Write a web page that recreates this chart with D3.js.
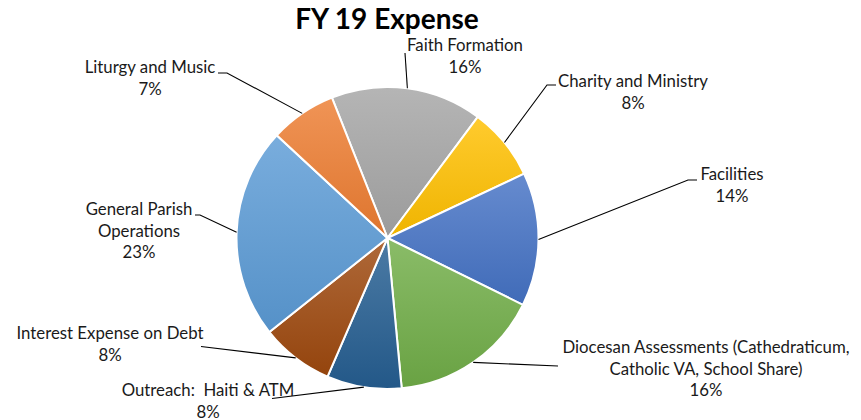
<!DOCTYPE html>
<head>
  <meta charset="utf-8">
  <style>
    body { margin: 0; background: #fff; }
    svg { display: block; font-family: Lato, sans-serif; }
  </style>
  <script src="https://cdn.jsdelivr.net/npm/d3@7"></script>
</head>
<body>
<svg id=chart width="861" height="420"></svg>
<script>
// data, in drawing order (clockwise)
const categories = [
  'Faith Formation', 'Charity and Ministry', 'Facilities',
  'Diocesan Assessments (Cathedraticum,|Catholic VA, School Share)',
  'Outreach:  Haiti & ATM', 'Interest Expense on Debt',
  'General Parish|Operations', 'Liturgy and Music'
]
const shares = [16.2, 7.8, 14.3, 16.2, 8.0, 7.8, 22.6, 7.1]
const colors = ['#A5A5A5', '#FFC000', '#4472C4', '#70AD47', '#255E91', '#9E480E', '#5B9BD5', '#ED7D31']

// label layout: text centre x, first baseline y, leader start (+ optional elbow)
const labelLayout = [
  { x: 465, y: 51, lead: [[405, 53]] },
  { x: 633, y: 87, lead: [[556, 85], [547, 85]] },
  { x: 732, y: 180, lead: [[697, 180], [688, 180]] },
  { x: 706, y: 353, lead: [[558, 366]] },
  { x: 208, y: 396, lead: [[272, 398.5]] },
  { x: 110, y: 339, lead: [[201, 346.5]] },
  { x: 139, y: 215, lead: [[195, 215], [200, 215]] },
  { x: 150, y: 73, lead: [[218, 73], [227, 73]] }
]

const svg = d3.select('#chart')
const cx = 387.5, cy = 238, r = 151
const lineGap = 21.7

svg.append('text')
  .attr('x', 387).attr('y', 29)
  .attr('text-anchor', 'middle')
  .style('font-size', '28px').style('font-weight', 700)
  .attr('fill', '#000')
  .text('FY 19 Expense')

const rows = categories.map((c, i) => ({ name: c, value: shares[i], color: colors[i], lay: labelLayout[i] }))

const start = -21.6 * Math.PI / 180
const pie = d3.pie().sort(null).value(d => d.value)
  .startAngle(start).endAngle(start + 2 * Math.PI)
const arcs = pie(rows)
const arc = d3.arc().innerRadius(0).outerRadius(r)

// gradients
const defs = svg.append('defs')
rows.forEach((d, i) => {
  const g = defs.append('linearGradient').attr('id', 'g' + i)
    .attr('x1', 0).attr('y1', 0).attr('x2', 0).attr('y2', 1)
  g.append('stop').attr('offset', 0).attr('stop-color', d3.interpolateRgb(d.color, '#fff')(0.18))
  g.append('stop').attr('offset', 1).attr('stop-color', d3.color(d.color).darker(0.18))
})

const g = svg.append('g').attr('transform', `translate(${cx},${cy})`)
g.selectAll('path')
  .data(arcs)
  .join('path')
  .attr('d', arc)
  .attr('fill', (d, i) => `url(#g${i})`)
  .attr('stroke', '#fff')
  .attr('stroke-width', 2)

// leader lines
const line = d3.line()
svg.append('g').selectAll('path')
  .data(arcs)
  .join('path')
  .attr('fill', 'none')
  .attr('stroke', '#000')
  .attr('stroke-width', 1.1)
  .attr('d', d => {
    const a = (d.startAngle + d.endAngle) / 2
    const edge = [cx + r * Math.sin(a), cy - r * Math.cos(a)]
    return line([...d.data.lay.lead, edge])
  })

// labels
const total = d3.sum(shares)
const labels = svg.append('g').selectAll('text')
  .data(arcs)
  .join('text')
  .attr('text-anchor', 'middle')
  .attr('fill', '#1a1a1a')
  .style('font-size', '16.8px')
labels.each(function (d) {
  const t = d3.select(this)
  const lines = d.data.name.split('|').concat(`${Math.round(d.value / total * 100)}%`)
  lines.forEach((s, j) => {
    t.append('tspan')
      .attr('x', d.data.lay.x)
      .attr('y', d.data.lay.y + j * lineGap)
      .style('white-space', 'pre')
      .text(s)
  })
})
</script>
</body>
